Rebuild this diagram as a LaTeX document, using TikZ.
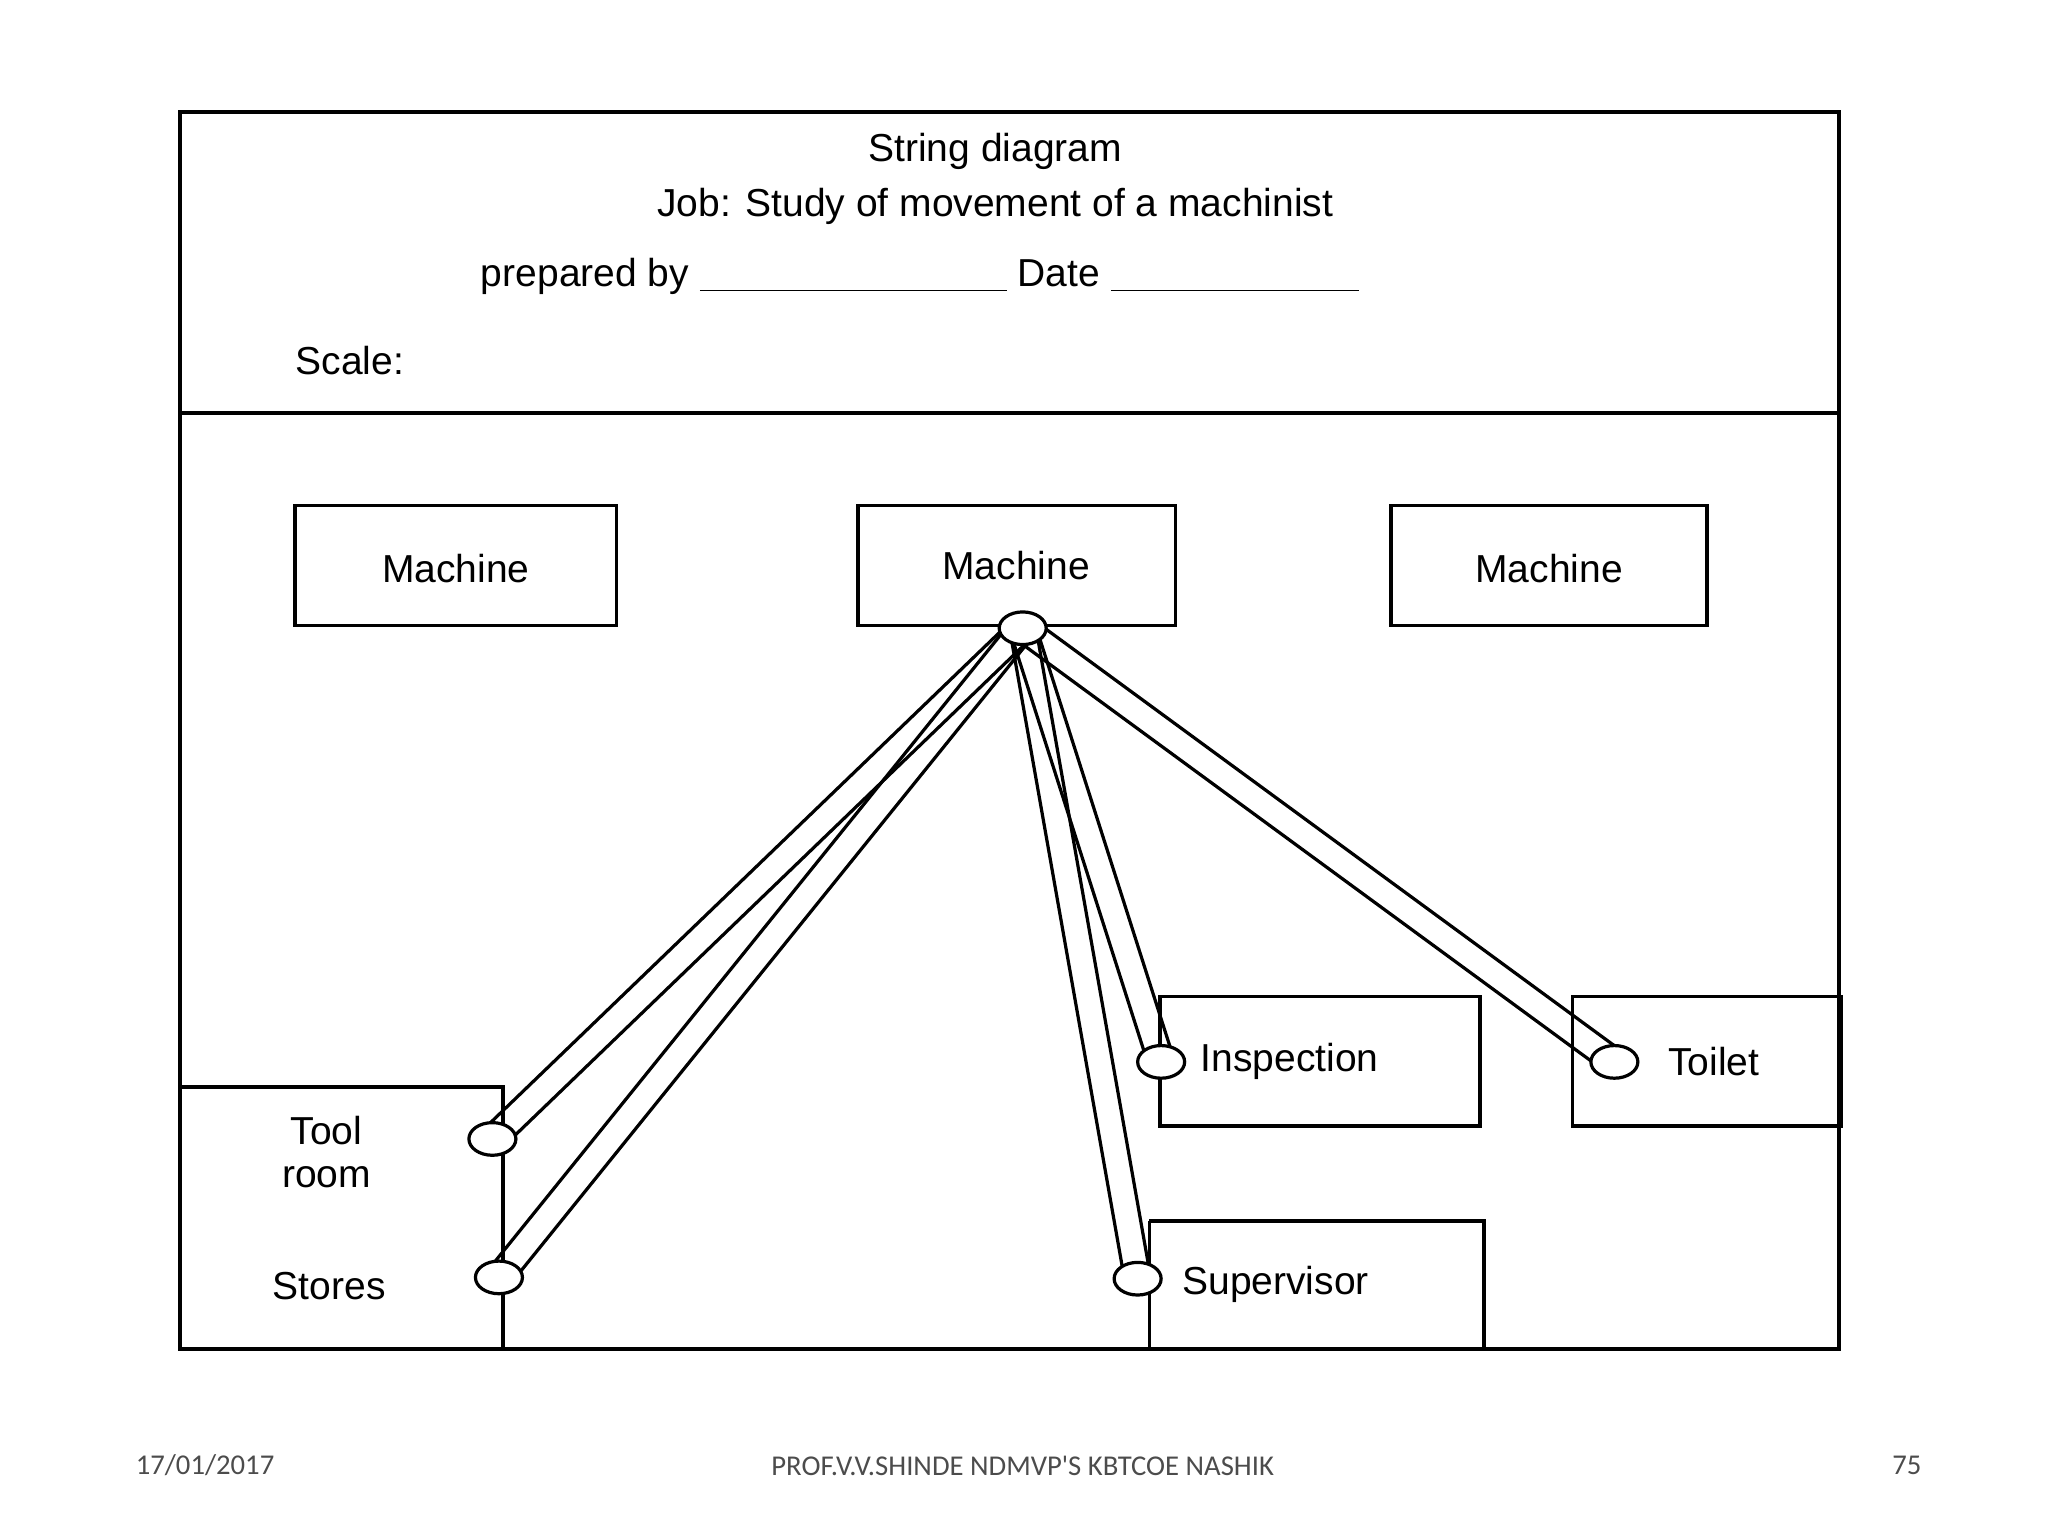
\documentclass[tikz,border=0pt]{standalone}
\usepackage{fontspec}
\setmainfont{Liberation Sans}
\newfontfamily\foot{Carlito}
\usetikzlibrary{calc,shapes.geometric}
\begin{document}
\begin{tikzpicture}[x=0.02cm,y=-0.02cm,line width=1.4pt,
  box/.style={draw,line width=1.6pt},
  lbl/.style={font=\fontsize{17}{19}\selectfont,inner sep=0},
  ft/.style={font=\foot\fontsize{12.5}{14}\selectfont,text=black!70,inner sep=0},
  ring/.style={draw,fill=white,ellipse,minimum width=0.72cm,minimum height=0.5cm,inner sep=0,line width=1.4pt}]
\useasboundingbox (0,0) rectangle (1568,1176);
\draw[box] (138,86) rectangle (1408,1033);
\draw[box] (138,316) -- (1408,316);
\node[lbl] (t1) at (762,116) {String diagram};
\node[lbl] (t2) at (762,158) {Job: Study of movement of a machinist};
\node[lbl,anchor=west] (t3) at (367,212) {prepared by \underline{\hspace{4.7cm}} Date \underline{\hspace{3.8cm}}};
\node[lbl,anchor=west] (t4) at (225,276) {Scale:};
\draw[box] (226,387) rectangle (472,479); \node[lbl] (m1) at (349,435) {Machine};
\draw[box] (657,387) rectangle (900,479); \node[lbl] (m2) at (778,433) {Machine};
\draw[box] (1065,387) rectangle (1307,479); \node[lbl] (m3) at (1186,435) {Machine};
\draw[box] (138,832) -- (385,832) -- (385,1033);
\node[lbl,align=center] (tr) at (250,882) {Tool\\room};
\node[lbl] (st) at (252,985) {Stores};
\draw[box] (888,763) rectangle (1133,862); \node[lbl,anchor=west] (in) at (918,813) {Inspection};
\draw[box] (1204,763) rectangle (1410,862); \node[lbl,anchor=west] (to) at (1276,813) {Toilet};
\draw[box] (880,935) -- (880,1033) (880,935) -- (1136,935) -- (1136,1033); \node[lbl,anchor=west] (su) at (904,983) {Supervisor};
\coordinate (M) at (783,481);
\coordinate (TR) at (377,872);
\coordinate (ST) at (382,978);
\coordinate (IN) at (889,813);
\coordinate (TO) at (1236,813);
\coordinate (SU) at (871,979);
\foreach \a/\b in {M/TR,M/ST,M/IN,M/SU,M/TO}{
  \draw ($(\a)!0.2cm!90:(\b)$) -- ($(\b)!0.2cm!-90:(\a)$);
  \draw ($(\a)!0.2cm!-90:(\b)$) -- ($(\b)!0.2cm!90:(\a)$);
}
\foreach \c in {M,TR,ST,IN,TO,SU} \node[ring] (r\c) at (\c) {};
\node[ft] (f1) at (157,1122) {17/01/2017};
\node[ft] (f2) at (783,1122) {PROF.V.V.SHINDE NDMVP'S KBTCOE NASHIK};
\node[ft] (f3) at (1460,1122) {75};
\end{tikzpicture}
\end{document}
